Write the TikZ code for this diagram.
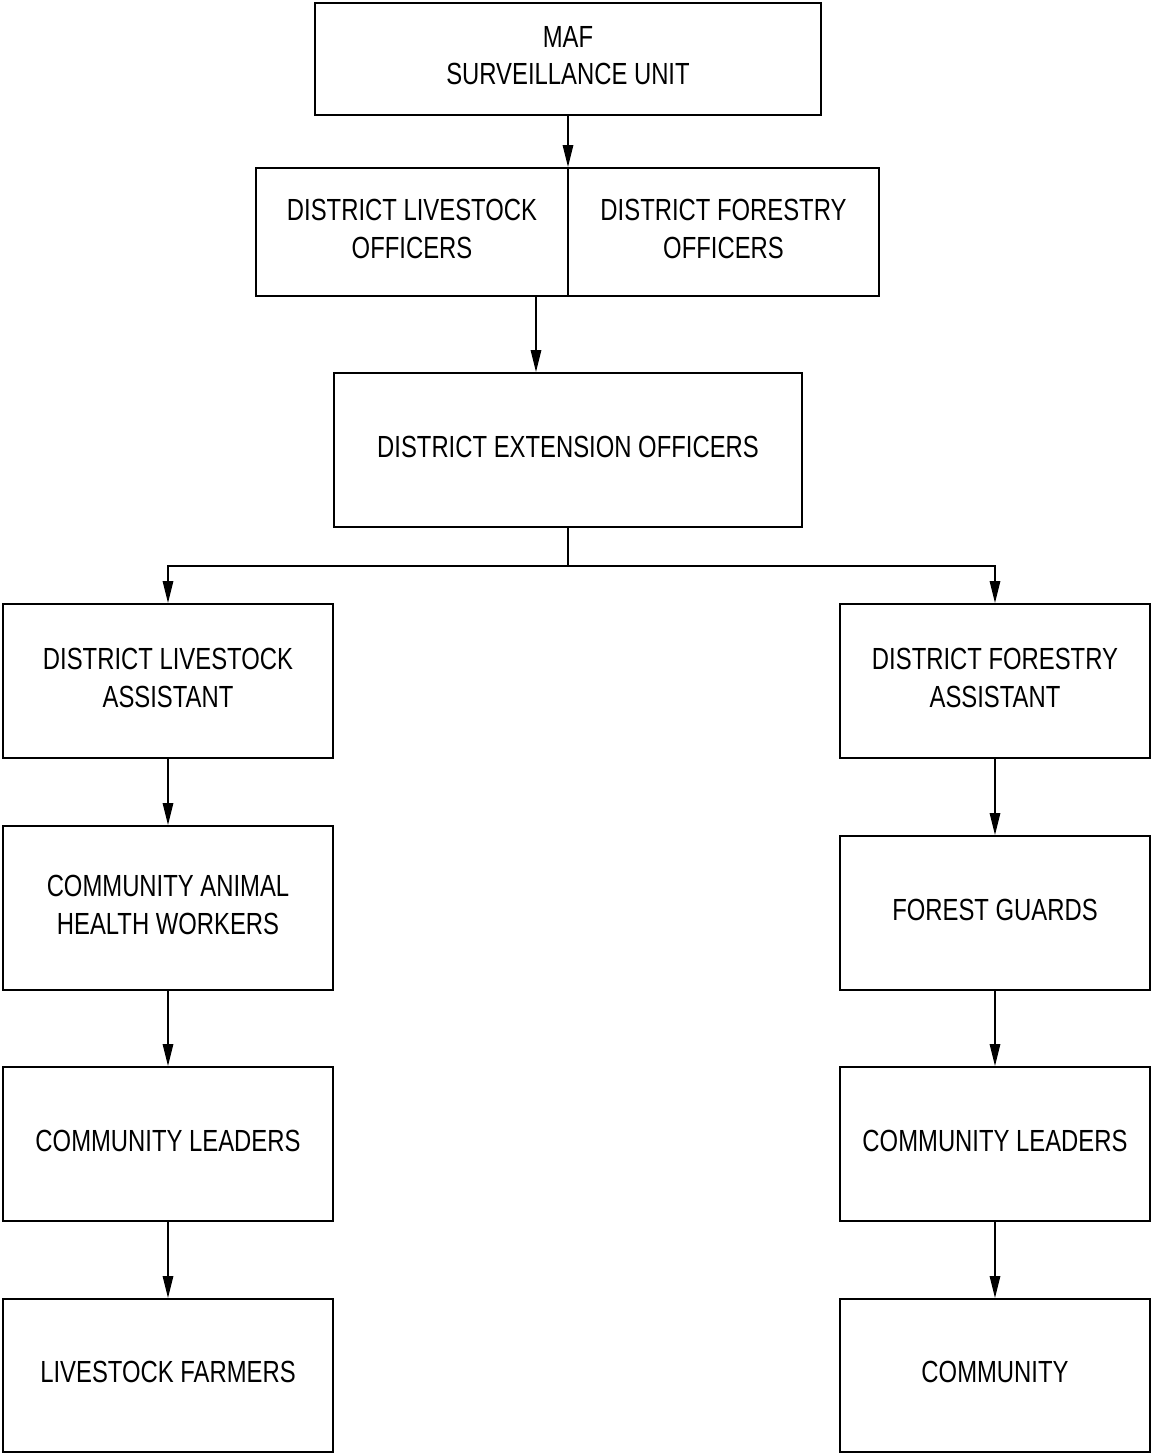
\documentclass[tikz,border=0pt]{standalone}
\usepackage{fontspec}
\setmainfont[FakeStretch=0.78]{Liberation Sans}
\usetikzlibrary{arrows.meta,positioning}
\tikzset{
  box/.style={draw, line width=1.1pt, align=center, inner sep=0pt, text depth=4pt},
  arr/.style={line width=0.8pt, -{Triangle[length=4.4mm,width=2.1mm]}}
}
\begin{document}
\begin{tikzpicture}[x=0.2mm, y=-0.2mm, font=\fontsize{17.4}{21.5}\selectfont]
\useasboundingbox (0,0) rectangle (1151,1454);
% top of the chain
\node[box, minimum width=10.12cm, minimum height=2.24cm] (maf) at (568,59) {MAF\\SURVEILLANCE UNIT};
\node[box, minimum width=6.24cm, minimum height=2.56cm] (dlo) at (412,232) {DISTRICT LIVESTOCK\\OFFICERS};
\node[box, minimum width=6.22cm, minimum height=2.56cm] (dfo) at (723.5,232) {DISTRICT FORESTRY\\OFFICERS};
\node[box, minimum width=9.36cm, minimum height=3.08cm] (ext) at (568,450) {DISTRICT EXTENSION OFFICERS};
% livestock side
\node[box, minimum width=6.6cm, minimum height=3.08cm] (dla) at (168,681) {DISTRICT LIVESTOCK\\ASSISTANT};
\node[box, minimum width=6.6cm, minimum height=3.28cm] (cahw) at (168,908) {COMMUNITY ANIMAL\\HEALTH WORKERS};
\node[box, minimum width=6.6cm, minimum height=3.08cm] (clL) at (168,1144) {COMMUNITY LEADERS};
\node[box, minimum width=6.6cm, minimum height=3.06cm] (lf) at (168,1375.5) {LIVESTOCK FARMERS};
% forestry side
\node[box, minimum width=6.2cm, minimum height=3.08cm] (dfa) at (995,681) {DISTRICT FORESTRY\\ASSISTANT};
\node[box, minimum width=6.2cm, minimum height=3.08cm] (fg) at (995,913) {FOREST GUARDS};
\node[box, minimum width=6.2cm, minimum height=3.08cm] (clR) at (995,1144) {COMMUNITY LEADERS};
\node[box, minimum width=6.2cm, minimum height=3.06cm] (com) at (995,1375.5) {COMMUNITY};
% connectors
\coordinate (split) at (536,296);
\draw[arr] (maf.south) -- (maf.south |- dlo.north);
\draw[arr] (split) -- (split |- ext.north);
\draw[arr] (ext.south) -- ++(0,38) -| (dla.north);
\draw[arr] (ext.south) -- ++(0,38) -| (dfa.north);
\draw[arr] (dla) -- (cahw);
\draw[arr] (cahw) -- (clL);
\draw[arr] (clL) -- (lf);
\draw[arr] (dfa) -- (fg);
\draw[arr] (fg) -- (clR);
\draw[arr] (clR) -- (com);
\end{tikzpicture}
\end{document}
